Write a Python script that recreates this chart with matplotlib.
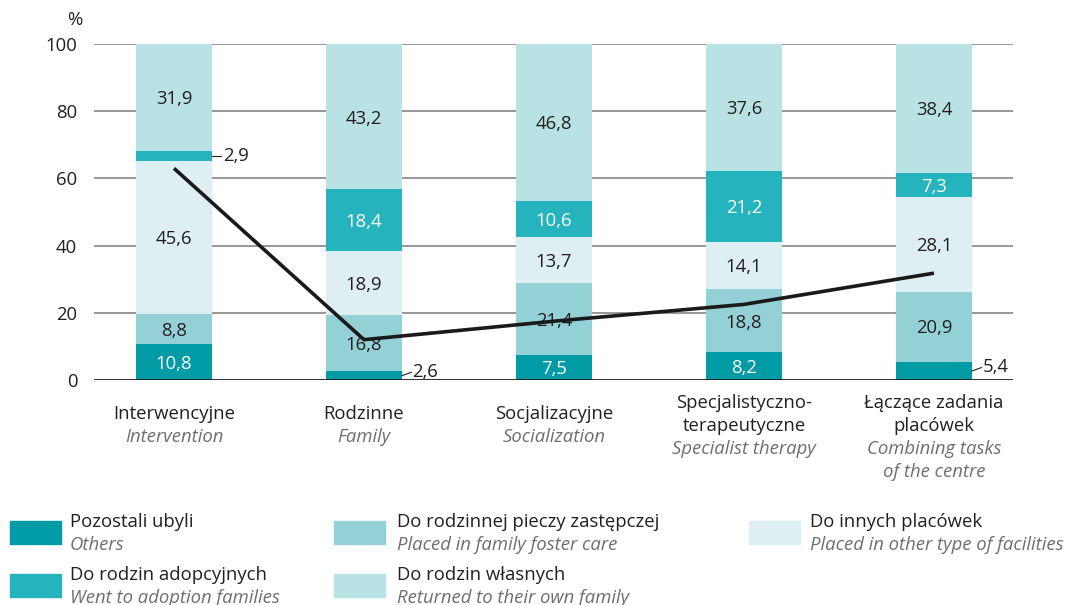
import matplotlib
matplotlib.use('Agg')
import matplotlib.pyplot as plt
from matplotlib import rcParams
from matplotlib.patches import Rectangle
import numpy as np

rcParams['font.family'] = ['Open Sans', 'DejaVu Sans']
rcParams['font.size'] = 13.3

# data
cat_pl = [['Interwencyjne'], ['Rodzinne'], ['Socjalizacyjne'],
          ['Specjalistyczno-', 'terapeutyczne'], ['Łączące zadania', 'placówek']]
cat_en = [['Intervention'], ['Family'], ['Socialization'],
          ['Specialist therapy'], ['Combining tasks', 'of the centre']]

others = [10.8, 2.6, 7.5, 8.2, 5.4]
foster = [8.8, 16.8, 21.4, 18.8, 20.9]
other_fac = [45.6, 18.9, 13.7, 14.1, 28.1]
adoption = [2.9, 18.4, 10.6, 21.2, 7.3]
own_family = [31.9, 43.2, 46.8, 37.6, 38.4]

line_vals = [63.0, 12.0, 17.5, 22.5, 31.8]

series = [others, foster, other_fac, adoption, own_family]
colors = ['#009ba5', '#94d1d6', '#ddeff3', '#25b4bd', '#b9e2e4']
txt_colors = ['white', '#231f20', '#231f20', 'white', '#231f20']

leg_pl = ['Pozostali ubyli', 'Do rodzin adopcyjnych', 'Do rodzinnej pieczy zastępczej',
          'Do rodzin własnych', 'Do innych placówek']
leg_en = ['Others', 'Went to adoption families', 'Placed in family foster care',
          'Returned to their own family', 'Placed in other type of facilities']
leg_idx = [0, 3, 1, 4, 2]

W, H = 1075, 605
fig = plt.figure(figsize=(W / 100, H / 100), dpi=100)
ax = fig.add_axes([94 / W, 1 - 380 / H, (1013 - 94) / W, (380 - 44) / H])

x = np.arange(5)
bw = 0.4
ax.set_xlim(-0.421, 4.416)
ax.set_ylim(0, 100)

for g in [20, 40, 60, 80, 100]:
    ax.axhline(g, color='#7a7a7a', lw=1.1, zorder=0)
ax.axhline(0, color='#231f20', lw=1.3, zorder=3)

bottom = np.zeros(5)
for s, c, tc in zip(series, colors, txt_colors):
    s = np.array(s)
    ax.bar(x, s, bw, bottom=bottom, color=c, zorder=1)
    for i in range(5):
        lab = ('%.1f' % s[i]).replace('.', ',')
        yc = bottom[i] + s[i] / 2
        if s[i] < 6:
            xe = x[i] + bw / 2
            if i == 0:
                ax.plot([xe, xe + 0.05], [yc, yc], color='#231f20', lw=0.8, zorder=4)
                ax.text(xe + 0.06, yc, lab, ha='left', va='center', color='#231f20')
            else:
                ax.plot([xe, xe + 0.05], [yc, yc + 1.0], color='#231f20', lw=0.8, zorder=4)
                ax.text(xe + 0.055, yc + 1.2, lab, ha='left', va='center', color='#231f20')
        else:
            ax.text(x[i], yc - 0.5, lab, ha='center', va='center', color=tc, zorder=4)
    bottom += s

ax.plot(x, line_vals, color='#1a1a1a', lw=2.6, zorder=5, solid_capstyle='butt')

for sp in ax.spines.values():
    sp.set_visible(False)
ax.set_xticks([])
ax.set_yticks([0, 20, 40, 60, 80, 100])
ax.tick_params(axis='y', length=0, pad=12, colors='#231f20')
fig.text(82 / W, 1 - 20 / H, '%', ha='right', va='center', color='#231f20')

# category labels
starts = [414, 414, 414, 403, 403]
step = 23
for i in range(5):
    xc = ax.transData.transform((x[i], 0))[0] / W
    yy = starts[i]
    for t in cat_pl[i]:
        fig.text(xc, 1 - yy / H, t, ha='center', va='center', color='#231f20')
        yy += step
    for t in cat_en[i]:
        fig.text(xc, 1 - yy / H, t, ha='center', va='center', color='#6d6e70', style='italic')
        yy += step

# legend
col_rect = [10, 334, 749]
col_txt = [70, 397, 810]
row_y = [521, 574]
for k, si in enumerate(leg_idx):
    col = k // 2
    row = k % 2
    ry = row_y[row]
    fig.patches.append(Rectangle((col_rect[col] / W, 1 - (ry + 23) / H), 51 / W, 23 / H,
                                 transform=fig.transFigure, color=colors[si]))
    fig.text(col_txt[col] / W, 1 - (ry + 1) / H, leg_pl[k], ha='left', va='center', color='#231f20')
    fig.text(col_txt[col] / W, 1 - (ry + 24) / H, leg_en[k], ha='left', va='center',
             color='#6d6e70', style='italic')

fig.savefig('out.png', dpi=100)
